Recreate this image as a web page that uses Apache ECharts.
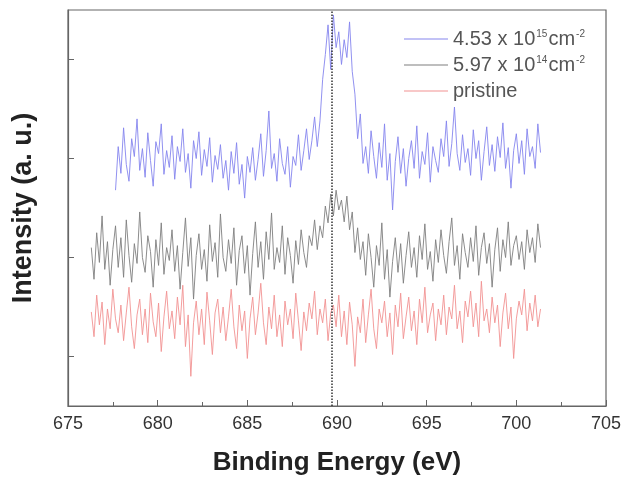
<!DOCTYPE html>
<html><head><meta charset="utf-8">
<script src="https://cdn.jsdelivr.net/npm/echarts@6/dist/echarts.min.js"></script>
<style>html,body{margin:0;padding:0;background:#fff}#c{width:623px;height:478px}</style>
</head><body><div id="c"></div>
<script>
// Energy grids (eV): start and step of the sampled spectra
var blueStart = 677.65, greyStart = 676.3, stepEV = 0.15;
var xTicks = [675, 680, 685, 690, 695, 700, 705];
var seriesNames = ['4.53 x 10^15 cm^-2', '5.97 x 10^14 cm^-2', 'pristine'];
var blueVals = [
2.18,2.62,2.35,2.81,2.44,2.27,2.70,2.52,2.90,2.38,
2.60,2.31,2.76,2.48,2.22,2.67,2.55,2.85,2.34,2.58,
2.41,2.73,2.29,2.62,2.47,2.80,2.36,2.55,2.20,2.68,
2.50,2.77,2.33,2.59,2.42,2.71,2.26,2.53,2.39,2.64,
2.30,2.48,2.18,2.57,2.35,2.66,2.24,2.44,2.10,2.52,
2.36,2.61,2.28,2.49,2.75,2.32,2.58,2.98,2.40,2.55,
2.27,2.70,2.45,2.34,2.62,2.21,2.52,2.43,2.74,2.38,
2.58,2.80,2.49,2.68,2.92,2.62,2.88,3.30,3.55,3.85,
3.40,3.95,3.62,3.78,3.45,3.70,3.52,3.88,3.38,3.15,
2.70,2.95,2.45,2.62,2.35,2.78,2.52,2.30,2.66,2.41,
2.85,2.28,2.55,1.98,2.47,2.72,2.35,2.60,2.22,2.50,
2.68,2.40,2.83,2.30,2.57,2.44,2.76,2.26,2.62,2.48,
2.36,2.70,2.52,2.88,2.42,2.65,3.02,2.55,2.38,2.74,
2.46,2.60,2.33,2.79,2.50,2.68,2.28,2.57,2.82,2.43,
2.64,2.37,2.72,2.51,2.86,2.40,2.61,2.20,2.58,2.75,
2.45,2.68,2.34,2.80,2.52,2.62,2.40,2.85,2.56];
var greyVals = [
1.60,1.28,1.75,1.45,1.92,1.38,1.66,1.22,1.58,1.82,
1.40,1.70,1.30,1.88,1.52,1.25,1.64,1.44,1.96,1.50,
1.35,1.72,1.56,1.20,1.68,1.42,1.85,1.33,1.60,1.47,
1.78,1.36,1.62,1.18,1.55,1.90,1.41,1.70,1.08,1.52,
1.74,1.38,1.58,1.26,1.83,1.46,1.65,1.30,1.94,1.50,
1.36,1.68,1.44,1.80,1.22,1.57,1.72,1.34,1.62,1.12,
1.54,1.86,1.40,1.66,1.28,1.76,1.48,1.95,1.38,1.60,
1.45,1.82,1.33,1.70,1.52,1.24,1.67,1.43,1.78,1.55,
1.40,1.72,1.62,1.88,1.58,1.82,1.70,2.02,1.85,2.14,
1.92,2.18,1.98,2.08,1.86,2.12,1.78,1.96,1.55,1.80,
1.48,1.66,1.32,1.74,1.50,1.20,1.62,1.42,1.85,1.28,
1.58,1.10,1.46,1.70,1.35,1.64,1.24,1.52,1.76,1.40,
1.60,1.30,1.72,1.48,1.84,1.38,1.56,1.26,1.68,1.45,
1.78,1.52,1.34,1.66,1.90,1.42,1.62,1.28,1.74,1.55,
1.40,1.70,1.46,1.82,1.32,1.60,1.75,1.44,1.64,1.20,
1.58,1.80,1.36,1.68,1.50,1.86,1.42,1.62,1.72,1.48,
1.66,1.38,1.78,1.55,1.70,1.45,1.84,1.60];
var redVals = [
0.95,0.70,1.12,0.82,1.05,0.62,0.98,0.78,1.18,0.88,
0.74,1.02,0.66,0.94,1.20,0.80,0.58,0.92,1.08,0.72,
0.98,0.64,1.14,0.85,0.70,1.04,0.55,0.90,1.16,0.78,
0.96,0.68,1.10,0.82,1.22,0.60,0.92,0.30,0.84,1.06,
0.72,0.98,0.62,1.15,0.86,0.52,0.94,1.08,0.74,1.00,
0.66,0.90,1.18,0.80,0.58,1.02,0.76,0.96,0.48,0.88,
1.10,0.72,0.94,1.24,0.84,0.62,1.00,0.78,1.12,0.70,
0.92,0.60,1.06,0.82,0.98,0.68,1.14,0.86,0.56,0.95,
0.76,1.04,0.88,1.16,0.72,0.98,0.84,1.08,0.66,0.94,
1.02,0.80,1.12,0.70,0.96,0.62,1.05,0.82,0.40,0.90,
0.74,1.08,0.64,0.92,1.18,0.78,0.58,0.98,0.84,1.06,
0.70,0.94,0.52,1.02,0.80,1.14,0.68,0.90,1.10,0.76,
0.96,0.62,1.08,0.84,1.20,0.74,0.92,1.04,0.66,0.98,
0.82,1.12,0.72,1.00,0.88,1.22,0.78,0.96,0.64,1.06,
0.90,1.16,0.80,1.04,0.70,1.26,0.86,0.98,0.74,1.10,
0.84,1.02,0.60,0.94,1.14,0.78,1.00,0.48,0.88,1.06,
0.92,1.18,0.76,1.04,0.86,1.12,0.80,0.98];
var peakEnergy = 689.7;

function pairs(start, vals){
  return vals.map(function(v,i){ return [+(start + i*stepEV).toFixed(2), v]; });
}
var chart = echarts.init(document.getElementById('c'));
var colors = ['#8585ee', '#7f7f7f', '#f29292'];
function legendFmt(name){
  if (name === 'pristine') return '{a|pristine}';
  var m = name.match(/^(.*) x 10\^(\d+) cm\^(-\d+)$/);
  return '{a|' + m[1] + ' x 10}{s|' + m[2] + '}{a|cm}{s|' + m[3] + '}';
}
chart.setOption({
  animation: false,
  color: colors,
  grid: {left: 68, right: 17, top: 10, bottom: 72, show: true, borderColor: '#666', borderWidth: 1.2,
         outerBoundsMode: 'none', containLabel: false},
  legend: {
    orient: 'vertical', left: 399, top: 24, itemGap: 6, itemWidth: 44, itemHeight: 1, icon: 'rect',
    data: seriesNames, formatter: legendFmt,
    textStyle: {rich: {
      a: {fontFamily: 'Liberation Sans', fontSize: 20, color: '#555', lineHeight: 22},
      s: {fontFamily: 'Liberation Sans', fontSize: 10, color: '#555', padding: [0,1,9,1], lineHeight: 22}
    }}
  },
  xAxis: {
    type: 'value', min: xTicks[0], max: xTicks[xTicks.length-1], interval: 5,
    name: 'Binding Energy (eV)', nameLocation: 'middle', nameGap: 44,
    nameTextStyle: {fontFamily: 'Liberation Sans', fontWeight: 'bold', fontSize: 26, color: '#222'},
    axisLine: {lineStyle: {color: '#666', width: 1.2}},
    axisTick: {inside: true, length: 6, lineStyle: {color: '#666'}},
    minorTick: {show: true, splitNumber: 2, length: 4, lineStyle: {color: '#666'}},
    splitLine: {show: false},
    axisLabel: {fontFamily: 'Liberation Sans', fontSize: 18, color: '#333', margin: 9}
  },
  yAxis: {
    type: 'value', min: 0, max: 4,
    name: 'Intensity (a. u.)', nameLocation: 'middle', nameGap: 31,
    nameTextStyle: {fontFamily: 'Liberation Sans', fontWeight: 'bold', fontSize: 27, color: '#222'},
    axisLine: {show: true, lineStyle: {color: '#666', width: 1.2}},
    axisTick: {show: true, inside: true, length: 6, customValues: [0.5, 1.5, 2.5, 3.5], lineStyle: {color: '#666'}},
    axisLabel: {show: false},
    splitLine: {show: false}
  },
  series: [
    {name: seriesNames[0], type: 'line', symbol: 'none', data: pairs(blueStart, blueVals),
     lineStyle: {width: 0.9, color: colors[0]}, z: 3,
     markLine: {silent: true, symbol: 'none', label: {show: false},
       lineStyle: {type: 'dotted', color: '#333', width: 1.5},
       data: [{xAxis: peakEnergy}]}},
    {name: seriesNames[1], type: 'line', symbol: 'none', data: pairs(greyStart, greyVals),
     lineStyle: {width: 0.9, color: colors[1]}, z: 2},
    {name: seriesNames[2], type: 'line', symbol: 'none', data: pairs(greyStart, redVals),
     lineStyle: {width: 0.9, color: colors[2]}, z: 1}
  ]
});
</script></body></html>
